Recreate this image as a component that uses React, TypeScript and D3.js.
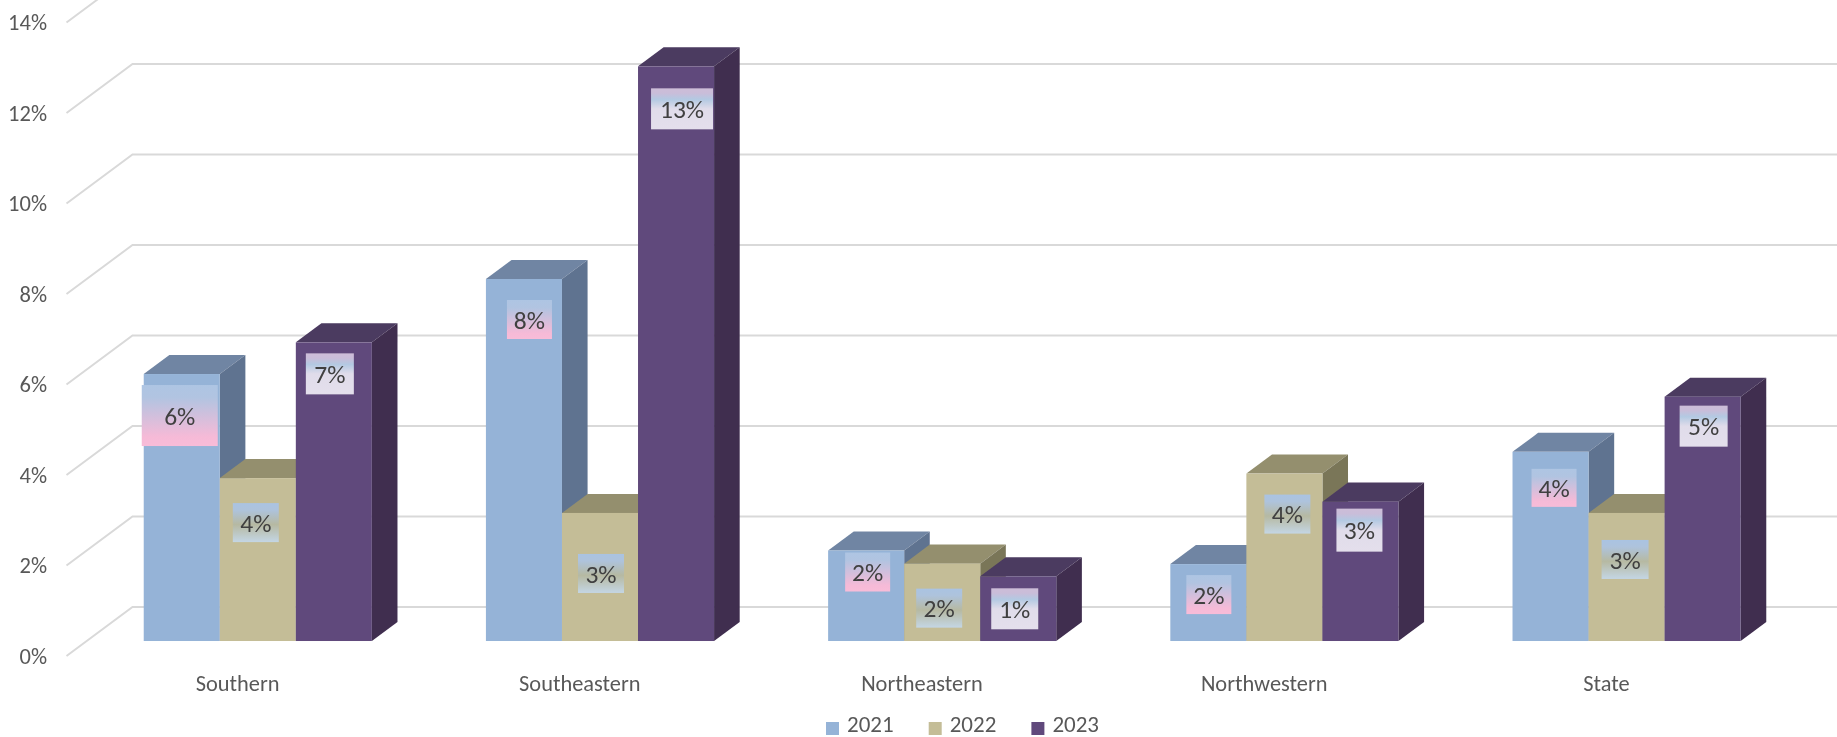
import React from "react";
import * as d3 from "d3";

const categories = ["Southern", "Southeastern", "Northeastern", "Northwestern", "State"];
const years = ["2021", "2022", "2023"];
const values2021 = [5.9, 8.0, 2.0, 1.7, 4.18];
const values2022 = [3.6, 2.83, 1.71, 3.7, 2.83];
const values2023 = [6.6, 12.7, 1.43, 3.08, 5.4];
const labels2021 = ["6%", "8%", "2%", "2%", "4%"];
const labels2022 = ["4%", "3%", "2%", "4%", "3%"];
const labels2023 = ["7%", "13%", "1%", "3%", "5%"];
const yTicks = [0, 2, 4, 6, 8, 10, 12, 14];

const seriesValues = [values2021, values2022, values2023];
const seriesLabels = [labels2021, labels2022, labels2023];

// layout: label box offset from the bar's top-centre (dx, top gap, width, height)
const boxLayout = [
  [[-2, 11, 76, 61], [5.5, 21, 45, 39], [1.5, 2, 45, 39], [0.5, 11, 45, 39], [3.5, 17, 45, 38]],
  [[-2, 25, 46, 39], [1, 41, 46, 39], [-3, 25, 46, 39], [3, 21, 46, 39], [-1.5, 27, 47, 39]],
  [[-4, 11, 48, 41], [6, 22, 62, 41], [-3.5, 12, 47, 41], [-1, 7, 46, 43], [1, 9, 48, 41]],
];

const W = 1837, H = 737;
const FONT = "Carlito, Lato, 'Open Sans', sans-serif";
const faces = [
  { front: "#95b3d7", top: "#7085a3", side: "#5f7390" },
  { front: "#c4bd97", top: "#948f6e", side: "#7a7659" },
  { front: "#604a7b", top: "#4b3a60", side: "#3f2d4f" },
];

const floorX0 = 66.5, floorDepthX = 66, floorDepthY = 49;
const y = d3.scaleLinear().domain([0, 14]).range([656, 656 - 14 * 45.25]);
const band = d3.scaleBand<string>().domain(categories).range([floorX0, floorX0 + 5 * 342.2]).paddingInner(0.3333).paddingOuter(0.16667);
const series = d3.scaleBand<string>().domain(years).range([0, band.bandwidth()]);
const depthStart = 0.306, depthEnd = 0.694;
const px = (d: number) => d * floorDepthX;
const py = (d: number) => d * floorDepthY;

export default function App() {
  const line = d3.line();
  return (
    <svg width={W} height={H} viewBox={`0 0 ${W} ${H}`} style={{ position: "absolute", left: 0, top: 0, background: "#fff" }}>
      <style>{`body{margin:0;overflow:hidden}`}</style>
      <defs>
        <linearGradient id="g0" x1="0" y1="0" x2="0" y2="1">
          <stop offset="0" stopColor="#aec5e3" />
          <stop offset="0.2" stopColor="#b1c4e1" />
          <stop offset="0.85" stopColor="#f6bad7" />
          <stop offset="1" stopColor="#f8bcd8" />
        </linearGradient>
        <linearGradient id="g1" x1="0" y1="0" x2="0" y2="1">
          <stop offset="0" stopColor="#aac3e2" />
          <stop offset="0.18" stopColor="#aec3dc" />
          <stop offset="0.55" stopColor="#b6b9a2" />
          <stop offset="1" stopColor="#c4d6e4" />
        </linearGradient>
        <linearGradient id="g2" x1="0" y1="0" x2="0" y2="1">
          <stop offset="0" stopColor="#cdbdd8" />
          <stop offset="0.12" stopColor="#c9bdd9" />
          <stop offset="0.27" stopColor="#b3c9e2" />
          <stop offset="0.5" stopColor="#e0dcea" />
          <stop offset="1" stopColor="#e4dfec" />
        </linearGradient>
        <filter id="soft" x="-2%" y="-2%" width="104%" height="104%">
          <feGaussianBlur stdDeviation="0.45" />
        </filter>
      </defs>
      <g filter="url(#soft)">
        {yTicks.map((t) => (
          <path
            key={t}
            d={line([
              [floorX0, y(t)],
              [floorX0 + floorDepthX, y(t) - floorDepthY],
              [W + 20, y(t) - floorDepthY],
            ]) as string}
            fill="none"
            stroke="#d9d9d9"
            strokeWidth={2}
          />
        ))}
        {yTicks.map((t) => (
          <text key={t} x={47} y={y(t) - 0.5} dy="0.36em" textAnchor="end" fontFamily={FONT} fontSize={22.5} fill="#595959">
            {t}%
          </text>
        ))}
        {categories.map((c, ci) => (
          <g key={c}>
            {years.map((yr, si) => {
              const v = seriesValues[si][ci];
              const x0 = (band(c) as number) + (series(yr) as number) + px(depthStart);
              const w = series.bandwidth();
              const y0 = y(0) - py(depthStart);
              const yt = y(v) - py(depthStart);
              const dx = px(depthEnd - depthStart);
              const dy = py(depthEnd - depthStart);
              const f = faces[si];
              return (
                <g key={yr}>
                  <path d={line([[x0, yt], [x0 + dx, yt - dy], [x0 + w + dx, yt - dy], [x0 + w, yt]]) + "Z"} fill={f.top} />
                  <path d={line([[x0 + w, yt], [x0 + w + dx, yt - dy], [x0 + w + dx, y0 - dy], [x0 + w, y0]]) + "Z"} fill={f.side} />
                  <rect x={x0} y={yt} width={w} height={y0 - yt} fill={f.front} />
                </g>
              );
            })}
          </g>
        ))}
        {categories.map((c, ci) =>
          years.map((yr, si) => {
            const v = seriesValues[si][ci];
            const cx = (band(c) as number) + (series(yr) as number) + px(depthStart) + series.bandwidth() / 2;
            const yt = y(v) - py(depthStart);
            const [ox, gap, bw, bh] = boxLayout[si][ci];
            return (
              <g key={c + yr}>
                <rect x={cx + ox - bw / 2} y={yt + gap} width={bw} height={bh} fill={`url(#g${si})`} />
                <text x={cx + ox} y={yt + gap + bh / 2} dy="0.36em" textAnchor="middle" fontFamily={FONT} fontSize={25.5} fill="#404040">
                  {seriesLabels[si][ci]}
                </text>
              </g>
            );
          })
        )}
        {categories.map((c) => (
          <text key={c} x={(band(c) as number) + band.bandwidth() / 2} y={691} textAnchor="middle" fontFamily={FONT} fontSize={22.4} fill="#595959">
            {c}
          </text>
        ))}
        {years.map((yr, i) => (
          <g key={yr} transform={`translate(${826 + i * 102.7},0)`}>
            <rect x={0} y={722} width={13} height={13} fill={faces[i].front} />
            <text x={21} y={732} fontFamily={FONT} fontSize={23} fill="#595959">
              {yr}
            </text>
          </g>
        ))}
      </g>
    </svg>
  );
}
